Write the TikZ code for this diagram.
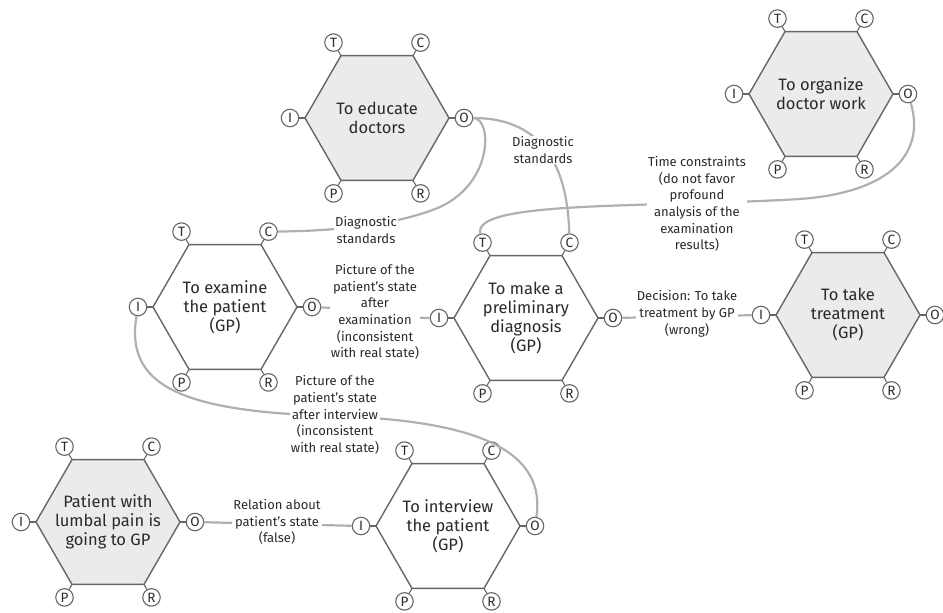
\documentclass[tikz,border=0pt]{standalone}
\usepackage{fontspec}
\setmainfont{Fira Sans}
\usetikzlibrary{calc}

\definecolor{hexfill}{HTML}{EBEBEB}
\definecolor{hexline}{HTML}{666666}
\definecolor{linkgray}{HTML}{B0B0B0}
\definecolor{txt}{HTML}{2A2A2A}

\tikzset{
  hexedge/.style={draw=hexline, line width=1.4pt},
  proctext/.style={align=center, text=txt, inner sep=0pt,
    font=\fontsize{16.5}{19}\selectfont},
  port/.style={circle, draw=hexline, fill=white, line width=1.1pt,
    minimum size=17.5pt, inner sep=0pt, text=txt,
    font=\fontsize{13.5}{13.5}\selectfont},
  link/.style={draw=linkgray, line width=2.2pt},
  flowlabel/.style={align=center, fill=white, text=txt, inner sep=1pt,
    font=\fontsize{13}{16.7}\selectfont},
}

% hexagonal function block with its six ports (T, C, O, R, P, I)
% #1 name, #2 x, #3 y, #4 fill colour, #5 text
\newcommand{\hexprocess}[5]{%
  \coordinate (#1) at (#2,#3);
  \draw[hexedge, fill=#4] ($(#1)+(-72,0)$) -- ($(#1)+(-36,-62.4)$)
    -- ($(#1)+(36,-62.4)$) -- ($(#1)+(72,0)$) -- ($(#1)+(36,62.4)$)
    -- ($(#1)+(-36,62.4)$) -- cycle;
  \node[proctext] (#1-text) at (#1) {#5};
  \foreach \p/\vx/\vy in {T/-36/-62.4, C/36/-62.4, O/72/0, R/36/62.4,
                          P/-36/62.4, I/-72/0}{
    \node[port] (#1-\p) at ($(#1)+1.2083*(\vx,\vy)$) {\p};
    \draw[hexedge, line width=1.1pt] ($(#1)+(\vx,\vy)$) -- (#1-\p);
  }
}

\begin{document}
\begin{tikzpicture}[x=1pt, y=-1pt]
  \useasboundingbox (0,0) rectangle (943,613);

  % function blocks
  \hexprocess{edu}{377}{118}{hexfill}{To educate\\doctors}
  \hexprocess{org}{821}{94}{hexfill}{To organize\\doctor work}
  \hexprocess{exam}{225}{307}{white}{To examine\\the patient\\(GP)}
  \hexprocess{diag}{526}{318}{white}{To make a\\preliminary\\diagnosis\\(GP)}
  \hexprocess{treat}{848}{315}{hexfill}{To take\\treatment\\(GP)}
  \hexprocess{pat}{108}{522}{hexfill}{Patient with\\lumbal pain is\\going to GP}
  \hexprocess{int}{448}{526}{white}{To interview\\the patient\\(GP)}

  % connectors
  \draw[link] (edu-O) .. controls (492,118) and (494,182) .. (440,207)
    .. controls (400,224) and (340,231) .. (exam-C);
  \draw[link] (edu-O) .. controls (522,118) and (567,142) .. (diag-C);
  \draw[link] (org-O) .. controls (925,150) and (895,192) .. (800,199)
    .. controls (650,208) and (472,200) .. (diag-T);
  \draw[link] (exam-O) .. controls (360,309) and (400,318) .. (diag-I);
  \draw[link] (diag-O) -- (treat-I);
  \draw[link] (exam-I) .. controls (125,385) and (180,412) .. (335,416)
    .. controls (450,420) and (548,440) .. (int-O);
  \draw[link] (pat-O) -- (int-I);

  % connector labels
  \node[flowlabel] (lbl-std1) at (366,230) {Diagnostic\\standards};
  \node[flowlabel] (lbl-std2) at (543,150) {Diagnostic\\standards};
  \node[flowlabel] (lbl-time) at (697,204)
    {Time constraints\\(do not favor\\profound\\analysis of the\\examination\\results)};
  \node[flowlabel] (lbl-exam) at (375,312)
    {Picture of the\\patient's state\\after\\examination\\(inconsistent\\with real state)};
  \node[flowlabel] (lbl-dec) at (687,314)
    {Decision: To take\\treatment by GP\\(wrong)};
  \node[flowlabel] (lbl-int) at (335,415)
    {Picture of the\\patient's state\\after interview\\(inconsistent\\with real state)};
  \node[flowlabel] (lbl-rel) at (277,522)
    {Relation about\\patient's state\\(false)};
\end{tikzpicture}
\end{document}
